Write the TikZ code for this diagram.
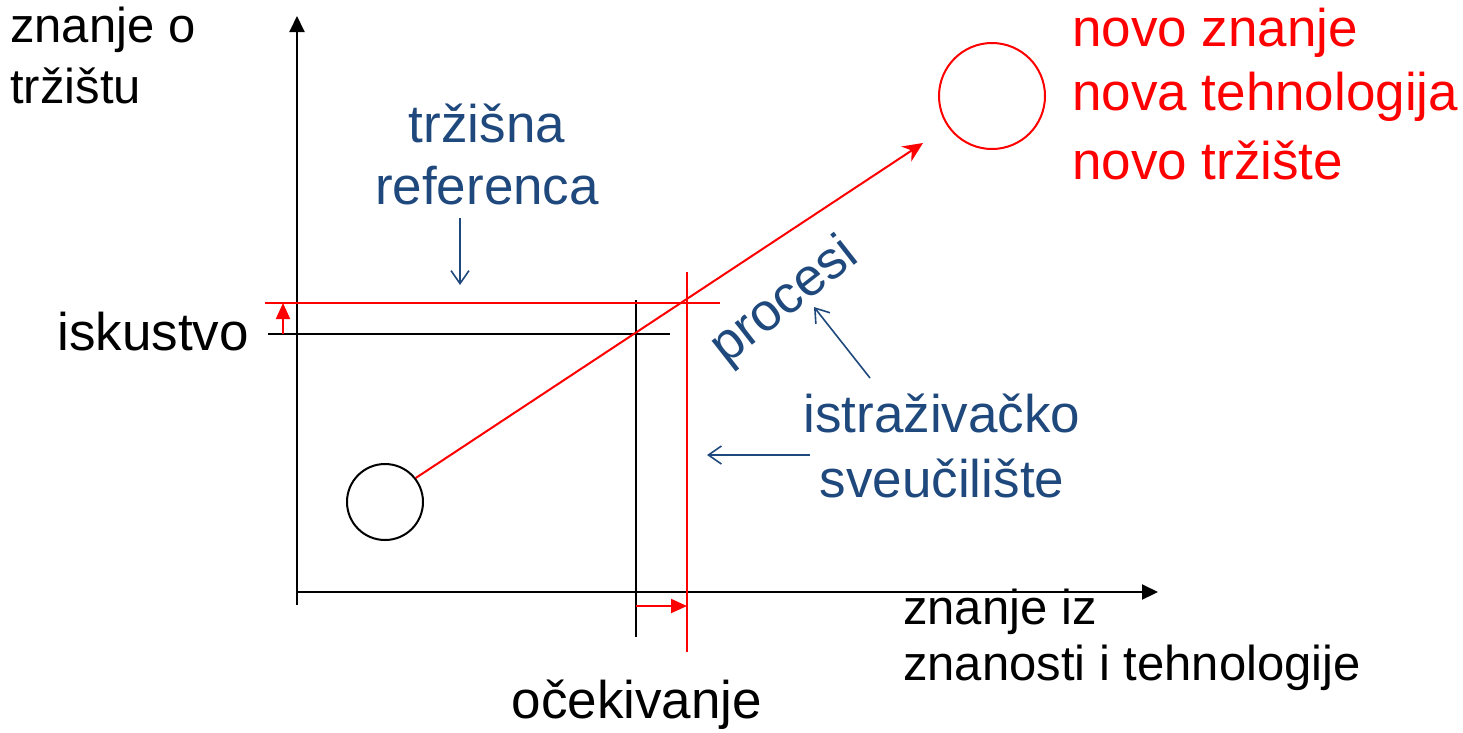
\documentclass[tikz,border=0pt]{standalone}
\usepackage{fontspec}
\setmainfont{Liberation Sans}
\usetikzlibrary{arrows.meta}
\definecolor{navy}{RGB}{31,73,125}
\definecolor{rd}{RGB}{255,0,0}
\tikzset{
  lbl/.style={font=\fontsize{53}{63}\selectfont, inner sep=0pt},
  albl/.style={font=\fontsize{49}{58}\selectfont, inner sep=0pt},
  axis/.style={line width=2pt, draw=black, -{Triangle[length=16pt,width=15pt]}},
  thin/.style={line width=2pt, draw=black},
  redl/.style={line width=2pt, draw=rd},
  redarr/.style={line width=2pt, draw=rd, -{Triangle[length=16pt,width=14pt]}},
  bluearr/.style={line width=1.6pt, draw=navy, -{Straight Barb[length=13pt,width=18pt,line width=1.6pt]}},
}
\begin{document}
\begin{tikzpicture}[x=1pt,y=-1pt]
\useasboundingbox (0,0) rectangle (1463,732);
% axes
\coordinate (o) at (297,605);
\coordinate (ytip) at (297,16);
\coordinate (x0) at (297,592);
\coordinate (xtip) at (1158,592);
\draw[axis] (o) -- (ytip);
\draw[axis] (x0) -- (xtip);
% black lines
\coordinate (isL) at (268,334); \coordinate (isR) at (670,334);
\draw[thin] (isL) -- (isR);
\coordinate (ocT) at (636,300); \coordinate (ocB) at (636,637);
\draw[thin] (ocT) -- (ocB);
% red lines
\coordinate (trL) at (265,303); \coordinate (trR) at (720,303);
\draw[redl] (trL) -- (trR);
\coordinate (svT) at (687,272); \coordinate (svB) at (687,652);
\draw[redl] (svT) -- (svB);
% small red arrows
\coordinate (ua0) at (283,334); \coordinate (ua1) at (283,303);
\draw[redarr] (ua0) -- (ua1);
\coordinate (ra0) at (636,606); \coordinate (ra1) at (687,606);
\draw[redarr] (ra0) -- (ra1);
% circles
\node[circle, draw=black, line width=2pt, minimum size=76pt, inner sep=0pt] (c1) at (385,502) {};
\node[circle, draw=rd, line width=2pt, minimum size=106pt, inner sep=0pt] (c2) at (992,96) {};
\coordinate (ptip) at (923,143);
\draw[line width=2pt, draw=rd, -{Stealth[length=20pt,width=18pt]}] (c1.38) -- (ptip);
% labels
\node[albl, anchor=west] (zt1) at (10,30) {znanje o};
\node[albl, anchor=west] (zt2) at (10,86) {tržištu};
\node[lbl, text=navy] (tr1) at (487,123) {tržišna};
\node[lbl, text=navy] (tr2) at (487,186) {referenca};
\coordinate (trA) at (460,218); \coordinate (trB) at (460,285);
\draw[bluearr] (trA) -- (trB);
\node[lbl, anchor=east] (isk) at (249,332) {iskustvo};
\node[lbl, text=navy, rotate=38] (pro) at (785,302) {procesi};
\coordinate (prA) at (870,378); \coordinate (prB) at (814,307);
\draw[bluearr] (prA) -- (prB);
\node[lbl, text=navy] (is1) at (942,413) {istraživačko};
\node[lbl, text=navy] (is2) at (942,478) {sveučilište};
\coordinate (svA) at (810,455); \coordinate (svC) at (707,455);
\draw[bluearr] (svA) -- (svC);
\node[albl, anchor=west] (zz1) at (903,612) {znanje iz};
\node[albl, anchor=west] (zz2) at (903,668) {znanosti i tehnologije};
\node[lbl] (oc) at (637,705) {očekivanje};
\node[lbl, anchor=west, text=rd] (nv1) at (1072,33) {novo znanje};
\node[lbl, anchor=west, text=rd] (nv2) at (1072,97) {nova tehnologija};
\node[lbl, anchor=west, text=rd] (nv3) at (1072,160) {novo tržište};
\end{tikzpicture}
\end{document}
